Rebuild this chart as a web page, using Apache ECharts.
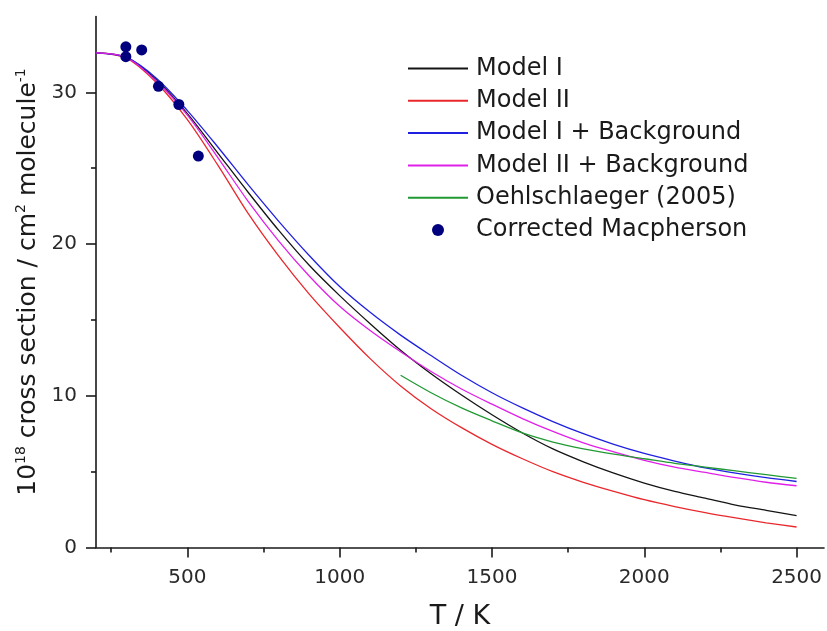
<!DOCTYPE html>
<html>
<head>
<meta charset="utf-8">
<script src="https://cdn.jsdelivr.net/npm/echarts@6/dist/echarts.min.js"></script>
<style>
html,body{margin:0;padding:0;background:#fff;}
#chart{width:827px;height:631px;}
</style>
</head>
<body>
<div id="chart"></div>
<script>
// ---- data ----
const temps = [200,300,400,500,600,700,800,900,1000,1100,1200,1300,1400,1500,1600,1700,1800,1900,2000,2100,2200,2300,2400,2500];
const modelI = [32.6,32.3,30.8,28.6,26.0,23.4,20.9,18.6,16.6,14.75,13.0,11.45,10.05,8.75,7.55,6.5,5.65,4.9,4.25,3.7,3.25,2.8,2.45,2.1];
const modelII = [32.6,32.25,30.6,28.2,25.2,22.0,19.2,16.7,14.5,12.45,10.65,9.15,7.9,6.8,5.85,5.0,4.3,3.7,3.15,2.7,2.3,1.95,1.63,1.35];
const modelIBg = [32.6,32.3,30.9,28.8,26.4,23.9,21.5,19.25,17.2,15.5,14.0,12.65,11.35,10.2,9.2,8.3,7.5,6.8,6.2,5.7,5.25,4.9,4.6,4.35];
const modelIIBg = [32.6,32.3,30.7,28.5,25.7,22.8,20.2,17.9,15.9,14.3,12.9,11.6,10.45,9.45,8.5,7.65,6.9,6.3,5.75,5.3,4.95,4.6,4.3,4.07];
const oehlTemps = [1200,1300,1400,1500,1600,1700,1800,1900,2000,2100,2200,2300,2400,2500];
const oehl = [11.35,10.2,9.2,8.35,7.55,6.95,6.5,6.15,5.85,5.55,5.3,5.05,4.8,4.55];
const macTemps = [298,298,350,405,472,536];
const macVals = [33.0,32.35,32.8,30.4,29.2,25.8];
const xMajor = [500,1000,1500,2000,2500];
const xMinor = [250,750,1250,1750,2250];
const yMajor = [0,10,20,30];
const yMinor = [5,15,25];

const pairs = (xs, ys) => xs.map((x, i) => [x, ys[i]]);
const FONT = 'DejaVu Sans';
const AX = '#1a1a1a';

const lineSeries = (name, xs, ys, color) => ({
  name, type: 'line', xAxisIndex: 0, yAxisIndex: 0,
  data: pairs(xs, ys), showSymbol: false, symbol: 'none', smooth: 0.3,
  lineStyle: { color, width: 1.3 }, itemStyle: { color }, z: 3
});
const hiddenSym = { color: 'rgba(0,0,0,0)', borderColor: 'rgba(0,0,0,0)', borderWidth: 0 };

const chart = echarts.init(document.getElementById('chart'), null, { renderer: 'canvas' });
chart.setOption({
  animation: false,
  backgroundColor: '#fff',
  grid: { left: 96, right: 3, top: 16.5, bottom: 83.5, containLabel: false, outerBoundsMode: 'none' },
  legend: {
    orient: 'vertical', left: 402, top: 51.5,
    itemWidth: 60, itemHeight: 12, itemGap: 8.3,
    textStyle: { fontFamily: FONT, fontSize: 24, color: '#1a1a1a', lineHeight: 24, padding: [0, 0, 0, 3] },
    data: [
      { name: 'Model I', itemStyle: hiddenSym },
      { name: 'Model II', itemStyle: hiddenSym },
      { name: 'Model I + Background', itemStyle: hiddenSym },
      { name: 'Model II + Background', itemStyle: hiddenSym },
      { name: 'Oehlschlaeger (2005)', itemStyle: hiddenSym },
      { name: 'Corrected Macpherson', icon: 'circle' }
    ]
  },
  xAxis: [{
    type: 'value', min: 200, max: 2590, position: 'bottom',
    name: 'T / K', nameLocation: 'middle', nameGap: 56,
    nameTextStyle: { fontFamily: FONT, fontSize: 27, color: '#1a1a1a' },
    axisLine: { show: true, onZero: false, lineStyle: { color: AX, width: 1.6 } },
    axisTick: { show: true, inside: false, length: 10, customValues: xMajor, lineStyle: { color: AX, width: 1.6 } },
    axisLabel: { show: true, margin: 20, customValues: xMajor, formatter: v => String(v), fontFamily: FONT, fontSize: 20, color: '#2a2a2a' },
    splitLine: { show: false }
  }, {
    type: 'value', min: 200, max: 2590, position: 'bottom',
    axisLine: { show: false },
    axisTick: { show: true, inside: false, length: 5, customValues: xMinor, lineStyle: { color: AX, width: 1.6 } },
    axisLabel: { show: false },
    splitLine: { show: false }
  }],
  yAxis: [{
    type: 'value', min: 0, max: 35, position: 'left',
    name: '{n|10}{s|18}{n| cross section / cm}{s|2}{n| molecule}{s|-1}',
    nameLocation: 'middle', nameGap: 52,
    nameTextStyle: {
      fontFamily: FONT, fontSize: 25, color: '#1a1a1a',
      rich: {
        n: { fontFamily: FONT, fontSize: 25, color: '#1a1a1a' },
        s: { fontFamily: FONT, fontSize: 14, color: '#1a1a1a', padding: [0, 0, 14, 0] }
      }
    },
    axisLine: { show: true, onZero: false, lineStyle: { color: AX, width: 1.6 } },
    axisTick: { show: true, inside: false, length: 10, customValues: yMajor, lineStyle: { color: AX, width: 1.6 } },
    axisLabel: { show: true, margin: 19, customValues: yMajor, formatter: v => String(v), fontFamily: FONT, fontSize: 20, color: '#2a2a2a' },
    splitLine: { show: false }
  }, {
    type: 'value', min: 0, max: 35, position: 'left',
    axisLine: { show: false },
    axisTick: { show: true, inside: false, length: 5, customValues: yMinor, lineStyle: { color: AX, width: 1.6 } },
    axisLabel: { show: false },
    splitLine: { show: false }
  }],
  series: [
    lineSeries('Model I', temps, modelI, '#141414'),
    lineSeries('Model II', temps, modelII, '#e8282c'),
    lineSeries('Model I + Background', temps, modelIBg, '#2020e0'),
    lineSeries('Model II + Background', temps, modelIIBg, '#e020e8'),
    lineSeries('Oehlschlaeger (2005)', oehlTemps, oehl, '#229a34'),
    {
      name: 'Corrected Macpherson', type: 'scatter', xAxisIndex: 0, yAxisIndex: 0,
      data: pairs(macTemps, macVals), symbol: 'circle', symbolSize: 11,
      itemStyle: { color: '#00007f', opacity: 1 }, z: 5
    }
  ]
});
</script>
</body>
</html>
